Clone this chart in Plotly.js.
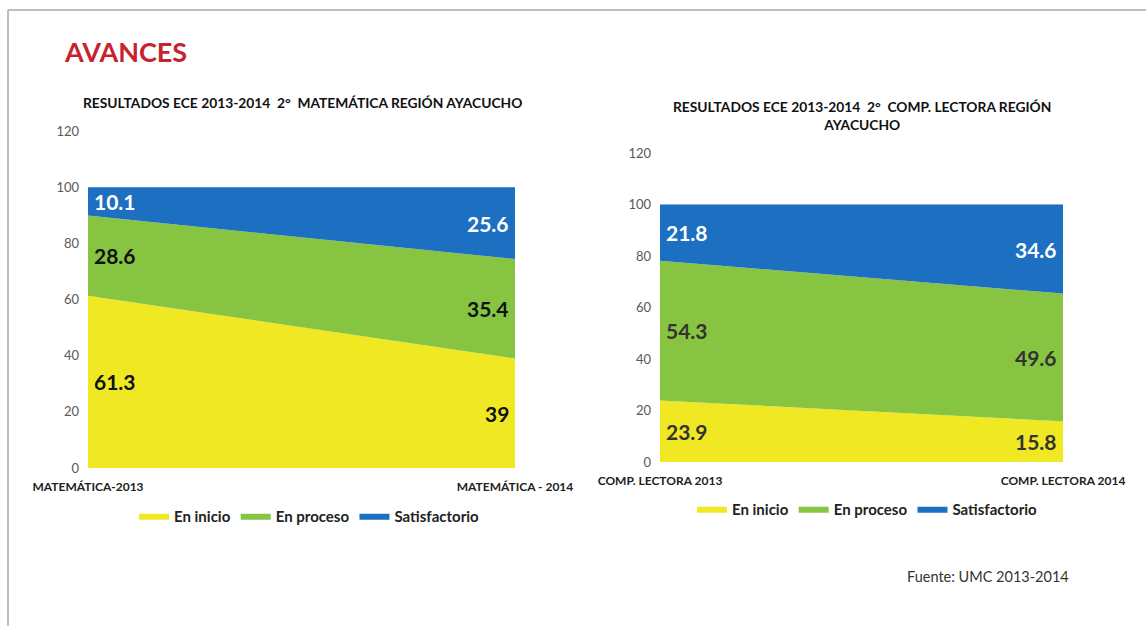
<!DOCTYPE html>
<html>
<head>
<meta charset="utf-8">
<script src="https://cdn.plot.ly/plotly-3.0.1.min.js"></script>
<style>
  html, body { margin: 0; padding: 0; background: #fff; }
  #grafico { width: 1146px; height: 626px; }
</style>
</head>
<body>
<div id="grafico"></div>
<script>
// datos ECE 2013-2014, 2° grado, región Ayacucho
const niveles = ['En inicio', 'En proceso', 'Satisfactorio'];
const colores = ['#efe823', '#86c441', '#1d6fc1'];

const catMat = ['MATEMÁTICA-2013', 'MATEMÁTICA - 2014'];
const matInicio = [61.3, 39];
const matProceso = [28.6, 35.4];
const matSatisf = [10.1, 25.6];

const catLec = ['COMP. LECTORA 2013', 'COMP. LECTORA 2014'];
const lecInicio = [23.9, 15.8];
const lecProceso = [54.3, 49.6];
const lecSatisf = [21.8, 34.6];

const fuente = 'Lato, "Open Sans", sans-serif';
const W = 1146, H = 626;
const px = v => v / W;
const py = v => 1 - v / H;

var data = [];
var annotations = [];

function grafico(cats, series, ejeX, ejeY, leyenda, colorTexto) {
  var base = [0, 0];
  series.forEach(function (vals, i) {
    data.push({
      x: cats, y: vals, name: niveles[i],
      xaxis: ejeX, yaxis: ejeY, legend: leyenda,
      type: 'scatter', mode: 'lines', stackgroup: ejeX,
      line: {width: 0, color: colores[i]},
      fillcolor: colores[i], hoverinfo: 'skip'
    });
    // etiquetas al medio de cada franja
    vals.forEach(function (v, j) {
      annotations.push({
        x: j, y: base[j] + v / 2, xref: ejeX, yref: ejeY,
        text: String(v), showarrow: false,
        xanchor: j === 0 ? 'left' : 'right', yanchor: 'middle',
        xshift: j === 0 ? 4 : -4,
        font: {family: fuente, size: 21, weight: 'bold',
               color: i === 2 ? '#ffffff' : colorTexto}
      });
      base[j] += v;
    });
  });
}

grafico(catMat, [matInicio, matProceso, matSatisf], 'x', 'y', 'legend', '#111111');
grafico(catLec, [lecInicio, lecProceso, lecSatisf], 'x2', 'y2', 'legend2', '#333333');

annotations.push(
  {x: px(62), y: py(52), xref: 'paper', yref: 'paper', xanchor: 'left', yanchor: 'middle',
   text: 'AVANCES', showarrow: false,
   font: {family: fuente, size: 27, weight: 'bold', color: '#c8232c'}},
  {x: px(303), y: py(103), xref: 'paper', yref: 'paper', xanchor: 'center', yanchor: 'middle',
   text: 'RESULTADOS ECE 2013-2014  2°  MATEMÁTICA REGIÓN AYACUCHO', showarrow: false,
   font: {family: fuente, size: 13.8, weight: 'bold', color: '#111'}},
  {x: px(862), y: py(116), xref: 'paper', yref: 'paper', xanchor: 'center', yanchor: 'middle',
   text: 'RESULTADOS ECE 2013-2014  2°  COMP. LECTORA REGIÓN<br>AYACUCHO', showarrow: false,
   font: {family: fuente, size: 13.8, weight: 'bold', color: '#111'}},
  {x: px(905), y: py(576), xref: 'paper', yref: 'paper', xanchor: 'left', yanchor: 'middle',
   text: 'Fuente: UMC 2013-2014', showarrow: false,
   font: {family: fuente, size: 14.5, color: '#333'}}
);

function ejeY(dom) {
  return {
    domain: dom, range: [0, 120], dtick: 20, fixedrange: true,
    showline: false, zeroline: false, showgrid: true, gridcolor: '#f2f2f2',
    ticks: '', ticklabelstandoff: 8,
    tickfont: {family: fuente, size: 13, color: '#595959'}
  };
}
function ejeX(dom, anchor) {
  return {
    domain: dom, anchor: anchor, type: 'category', range: [0, 1],
    showline: false, showgrid: false, zeroline: false, ticks: '',
    ticklabelstandoff: 10,
    tickfont: {family: fuente, size: 12, weight: 'bold', color: '#222'}
  };
}

var leyendaFont = {family: fuente, size: 15, weight: 'bold', color: '#222'};

var layout = {
  width: W, height: H,
  margin: {l: 0, r: 0, t: 0, b: 0},
  paper_bgcolor: '#fff', plot_bgcolor: 'rgba(0,0,0,0)',
  xaxis: ejeX([px(88), px(515)], 'y'),
  yaxis: ejeY([py(468), py(131)]),
  xaxis2: ejeX([px(660), px(1063)], 'y2'),
  yaxis2: Object.assign(ejeY([py(462), py(153)]), {anchor: 'x2'}),
  legend: {orientation: 'h', x: px(134), y: py(516), yanchor: 'middle',
           traceorder: 'normal', itemwidth: 30, font: leyendaFont, bgcolor: 'rgba(0,0,0,0)'},
  legend2: {orientation: 'h', x: px(692), y: py(509), yanchor: 'middle',
            traceorder: 'normal', itemwidth: 30, font: leyendaFont, bgcolor: 'rgba(0,0,0,0)'},
  annotations: annotations,
  shapes: [
    {type: 'line', xref: 'paper', yref: 'paper', x0: px(8), x1: 1, y0: py(10), y1: py(10),
     line: {color: '#a8a8a8', width: 1.5}},
    {type: 'line', xref: 'paper', yref: 'paper', x0: px(8), x1: px(8), y0: py(10), y1: 0,
     line: {color: '#a8a8a8', width: 1.5}}
  ],
  showlegend: true
};

Plotly.newPlot('grafico', data, layout, {displayModeBar: false, staticPlot: true});
</script>
</body>
</html>
